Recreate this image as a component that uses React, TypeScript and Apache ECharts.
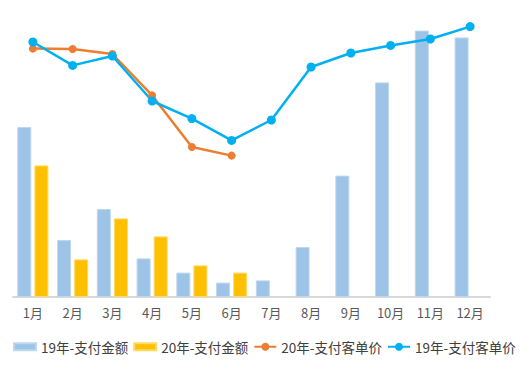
import React, { useEffect, useRef } from "react";
import * as echarts from "echarts";

const months = ["1月", "2月", "3月", "4月", "5月", "6月", "7月", "8月", "9月", "10月", "11月", "12月"];
const pay19 = [85, 28.5, 44, 19.3, 12.2, 7.2, 8.3, 25, 60.7, 107.3, 133.2, 129.8];
const pay20 = [65.8, 18.8, 39.3, 30.3, 15.8, 12.2];
const price20 = [124.2, 124, 121.5, 100.8, 75, 70.7];
const price19 = [127.5, 115.8, 120.5, 98, 89.2, 78.3, 88.5, 115, 122, 125.8, 129, 135.2];

const FONT = "'Noto Sans CJK SC', 'Noto Sans', sans-serif";

export default function App() {
  const ref = useRef<HTMLDivElement>(null);
  useEffect(() => {
    if (!ref.current) return;
    const chart = echarts.init(ref.current, undefined, { renderer: "svg" });
    chart.setOption({
      animation: false,
      textStyle: { fontFamily: FONT },
      grid: { left: 13, right: 34, top: 17, bottom: 82, containLabel: false },
      legend: {
        left: 13,
        top: 340,
        padding: 0,
        width: 511,
        itemWidth: 22,
        itemHeight: 10,
        itemGap: 5,
        textStyle: { fontSize: 13.5, color: "#404040", fontFamily: FONT },
        data: [
          { name: "19年-支付金额", icon: "path://M0,0h22v7h-22z" },
          { name: "20年-支付金额", icon: "path://M0,0h22v7h-22z" },
          { name: "20年-支付客单价" },
          { name: "19年-支付客单价" },
        ],
      },
      xAxis: {
        type: "category",
        data: months,
        axisLine: { lineStyle: { color: "#D9D9D9", width: 2 } },
        axisTick: { show: false },
        axisLabel: { color: "#595959", fontSize: 13, margin: 9, fontFamily: FONT },
      },
      yAxis: [
        { type: "value", min: 0, max: 140, show: false, splitLine: { show: false } },
        { type: "value", min: 0, max: 140, show: false, splitLine: { show: false } },
      ],
      series: [
        {
          name: "19年-支付金额",
          type: "bar",
          data: pay19,
          barWidth: 14,
          barGap: "22%",
          itemStyle: { color: "#9DC3E6", borderColor: "#BDD7EE", borderWidth: 1 },
        },
        {
          name: "20年-支付金额",
          type: "bar",
          data: pay20,
          barWidth: 14,
          barGap: "22%",
          itemStyle: { color: "#FFC000", borderColor: "#FFD966", borderWidth: 1 },
        },
        {
          name: "20年-支付客单价",
          type: "line",
          yAxisIndex: 1,
          data: price20,
          symbol: "circle",
          symbolSize: 8,
          lineStyle: { color: "#ED7D31", width: 2.5 },
          itemStyle: { color: "#ED7D31" },
        },
        {
          name: "19年-支付客单价",
          type: "line",
          yAxisIndex: 1,
          data: price19,
          symbol: "circle",
          symbolSize: 9,
          lineStyle: { color: "#00B0F0", width: 2.5 },
          itemStyle: { color: "#00B0F0" },
        },
      ],
    });
    return () => chart.dispose();
  }, []);
  return <div ref={ref} style={{ width: 524, height: 379, position: "absolute", left: 0, top: 0 }} />;
}
